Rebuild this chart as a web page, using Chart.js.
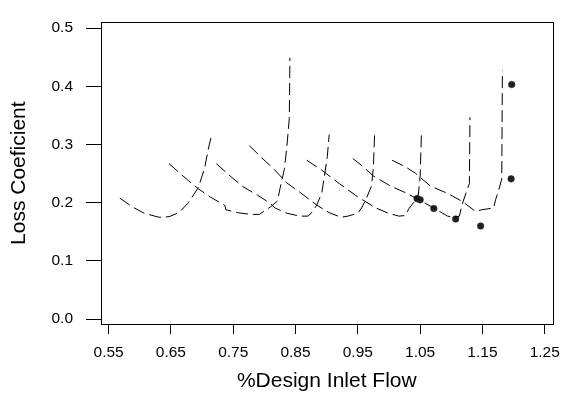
<!DOCTYPE html>
<html>
<head>
<meta charset="utf-8">
<script src="https://cdn.jsdelivr.net/npm/chart.js@4.4.0/dist/chart.umd.min.js"></script>
<style>
html,body{margin:0;padding:0;background:#fff;}
#wrap{width:569px;height:394px;}
</style>
</head>
<body>
<div id="wrap"><canvas id="c" width="569" height="394"></canvas></div>
<script>
// Tick labels
const xTicks = [0.55, 0.65, 0.75, 0.85, 0.95, 1.05, 1.15, 1.25];
const yTicks = [0.0, 0.1, 0.2, 0.3, 0.4, 0.5];

// Dashed curves (flow, loss coefficient)
const curve1X = [0.568, 0.588, 0.607, 0.631, 0.647, 0.663, 0.678, 0.694, 0.704, 0.710, 0.715];
const curve1Y = [0.208, 0.193, 0.182, 0.175, 0.176, 0.183, 0.200, 0.226, 0.259, 0.292, 0.315];

const curve2X = [0.647, 0.678, 0.694, 0.713, 0.729, 0.737, 0.738, 0.757, 0.778, 0.792, 0.810, 0.821, 0.825, 0.832, 0.836, 0.840, 0.841];
const curve2Y = [0.267, 0.238, 0.224, 0.210, 0.200, 0.195, 0.188, 0.183, 0.180, 0.180, 0.193, 0.203, 0.224, 0.257, 0.295, 0.345, 0.449];

const curve3X = [0.723, 0.745, 0.765, 0.789, 0.808, 0.817, 0.836, 0.857, 0.870, 0.876, 0.884, 0.892, 0.896, 0.901, 0.904];
const curve3Y = [0.267, 0.246, 0.228, 0.213, 0.200, 0.191, 0.182, 0.177, 0.177, 0.183, 0.196, 0.216, 0.243, 0.279, 0.317];

const curve4X = [0.776, 0.794, 0.816, 0.836, 0.857, 0.884, 0.904, 0.923, 0.934, 0.950, 0.956, 0.964, 0.972, 0.975, 0.977];
const curve4Y = [0.298, 0.279, 0.257, 0.234, 0.218, 0.196, 0.183, 0.175, 0.177, 0.182, 0.191, 0.208, 0.229, 0.262, 0.320];

const curve5X = [0.868, 0.892, 0.920, 0.950, 0.979, 0.999, 1.016, 1.026, 1.032, 1.040, 1.047, 1.050, 1.052];
const curve5Y = [0.273, 0.256, 0.233, 0.210, 0.191, 0.182, 0.177, 0.178, 0.190, 0.201, 0.213, 0.246, 0.317];

const curve6X = [0.942, 0.955, 0.975, 1.002, 1.029, 1.043, 1.072, 1.094, 1.105, 1.113, 1.117, 1.124, 1.129, 1.130];
const curve6Y = [0.276, 0.265, 0.246, 0.229, 0.216, 0.208, 0.191, 0.177, 0.175, 0.177, 0.196, 0.218, 0.233, 0.347];

const curve7X = [1.005, 1.026, 1.042, 1.066, 1.094, 1.118, 1.139, 1.149, 1.168, 1.171, 1.176, 1.181, 1.182];
const curve7Y = [0.273, 0.262, 0.251, 0.229, 0.216, 0.202, 0.185, 0.188, 0.191, 0.205, 0.221, 0.241, 0.427];

// Measured points
const pointsX = [1.045, 1.050, 1.072, 1.107, 1.147, 1.197, 1.196];
const pointsY = [0.207, 0.205, 0.190, 0.172, 0.160, 0.403, 0.241];

const curves = [
  [curve1X, curve1Y], [curve2X, curve2Y], [curve3X, curve3Y], [curve4X, curve4Y],
  [curve5X, curve5Y], [curve6X, curve6Y], [curve7X, curve7Y]
];

const zip = (xs, ys) => xs.map((x, i) => ({x: x, y: ys[i]}));

const datasets = curves.map((c, i) => ({
  label: 'curve' + (i + 1),
  data: zip(c[0], c[1]),
  showLine: true,
  borderColor: '#000',
  borderWidth: 1,
  borderDash: [12, 5],
  pointRadius: 0,
  tension: 0,
  fill: false
}));
datasets.push({
  label: 'points',
  data: zip(pointsX, pointsY),
  showLine: false,
  pointRadius: 3.3,
  pointBackgroundColor: '#222',
  pointBorderColor: '#222',
  pointBorderWidth: 0.5
});

const FONT = "Arial, 'Liberation Sans', sans-serif";

const boxPlugin = {
  id: 'box',
  afterDraw(chart) {
    const {ctx, chartArea: a} = chart;
    ctx.save();
    ctx.strokeStyle = '#000';
    ctx.lineWidth = 1;
    ctx.strokeRect(Math.round(a.left) + 0.5, Math.round(a.top) + 0.5,
                   Math.round(a.right - a.left), Math.round(a.bottom - a.top));
    ctx.restore();
  }
};

new Chart(document.getElementById('c'), {
  type: 'scatter',
  data: { datasets: datasets },
  plugins: [boxPlugin],
  options: {
    responsive: false,
    animation: false,
    devicePixelRatio: 1,
    layout: { padding: { left: 0, right: 9, top: 10, bottom: 0 } },
    plugins: { legend: { display: false }, tooltip: { enabled: false } },
    scales: {
      x: {
        type: 'linear',
        min: 0.5378,
        max: 1.2626,
        afterBuildTicks: (s) => { s.ticks = xTicks.map(v => ({ value: v })); },
        afterFit: (s) => { s.height = 70; },
        ticks: {
          callback: (v) => Number(v).toFixed(2),
          color: '#000',
          font: { family: FONT, size: 15.5 },
          padding: 9,
          maxRotation: 0,
          autoSkip: false
        },
        grid: { display: true, drawOnChartArea: false, drawTicks: true, tickLength: 10, tickColor: '#000', tickWidth: 1 },
        border: { display: true, color: '#000', width: 1 },
        title: {
          display: true,
          text: '%Design Inlet Flow',
          color: '#000',
          font: { family: FONT, size: 21 },
          padding: { top: 0, bottom: 0 }
        }
      },
      y: {
        type: 'linear',
        min: -0.00825,
        max: 0.5099,
        afterBuildTicks: (s) => { s.ticks = yTicks.map(v => ({ value: v })); },
        afterFit: (s) => { s.width = 101; },
        ticks: {
          callback: (v) => Number(v).toFixed(1),
          color: '#000',
          font: { family: FONT, size: 15.5 },
          padding: 13,
          autoSkip: false
        },
        grid: { display: true, drawOnChartArea: false, drawTicks: true, tickLength: 15, tickColor: '#000', tickWidth: 1 },
        border: { display: true, color: '#000', width: 1 },
        title: {
          display: true,
          text: 'Loss Coeficient',
          color: '#000',
          font: { family: FONT, size: 21 },
          padding: { top: 7, bottom: 0 }
        }
      }
    }
  }
});
</script>
</body>
</html>
